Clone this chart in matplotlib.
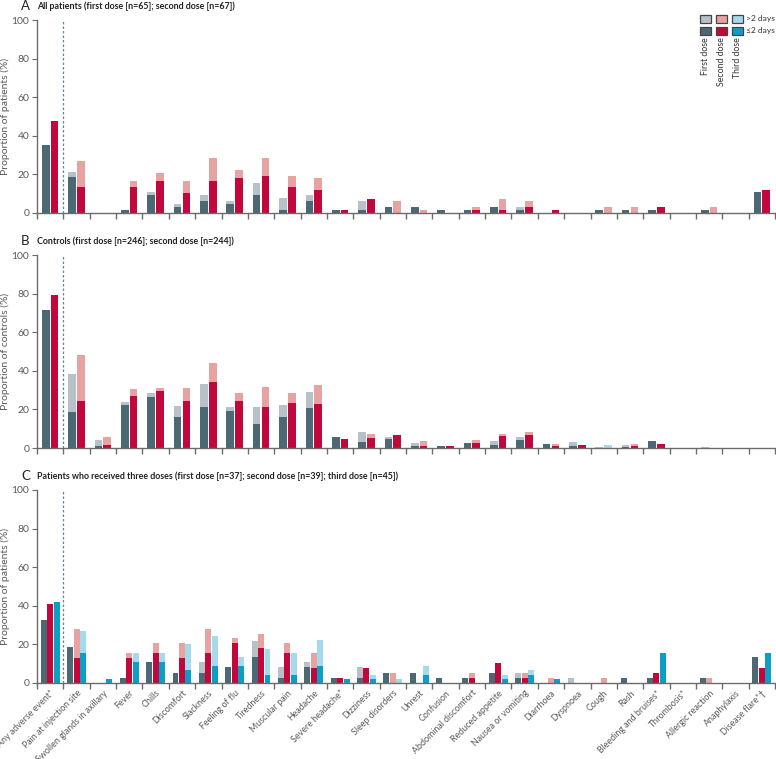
import numpy as np
import matplotlib
matplotlib.use("Agg")
import matplotlib.pyplot as plt
from matplotlib.patches import Rectangle

plt.rcParams['font.family'] = ['Lato', 'DejaVu Sans']

W, H = 776, 759

categories = ["Any adverse event*", "Pain at injection site", "Swollen glands in axillary",
              "Fever", "Chills", "Discomfort", "Slackness", "Feeling of flu", "Tiredness",
              "Muscular pain", "Headache", "Severe headache*", "Dizziness", "Sleep disorders",
              "Unrest", "Confusion", "Abdominal discomfort", "Reduced appetite",
              "Nausea or vomiting", "Diarrhoea", "Dyspnoea", "Cough", "Rash",
              "Bleeding and bruises*", "Thrombosis*", "Allergic reaction", "Anaphylaxis",
              "Disease flare*\u2020"]

## panel A: all patients, % with symptom lasting <=2 days and total
a_first_le2 = [35.4, 18.5, 0, 1.5, 9.2, 3.1, 6.2, 4.6, 9.2, 1.5, 6.2, 1.5, 1.5, 3.1,
               3.1, 1.5, 1.5, 3.1, 1.5, 0, 0, 1.5, 1.5, 1.5, 0, 1.5, 0, 10.8]
a_first_tot = [35.4, 21.5, 0, 1.5, 10.8, 4.6, 9.2, 6.2, 15.4, 7.7, 9.2, 1.5, 6.2, 3.1,
               3.1, 1.5, 1.5, 3.1, 3.1, 0, 0, 1.5, 1.5, 1.5, 0, 1.5, 0, 10.8]
a_second_le2 = [47.8, 13.4, 0, 13.4, 16.4, 10.4, 16.4, 17.9, 19.4, 13.4, 11.9, 1.5, 7.5, 0,
                0, 0, 1.5, 1.5, 3.0, 1.5, 0, 0, 0, 3.0, 0, 0, 0, 11.9]
a_second_tot = [47.8, 26.9, 0, 16.4, 20.9, 16.4, 28.4, 22.4, 28.4, 19.4, 17.9, 1.5, 7.5, 6.0,
                1.5, 0, 3.0, 7.5, 6.0, 1.5, 0, 3.0, 3.0, 3.0, 0, 3.0, 0, 11.9]

## panel B: controls
b_first_le2 = [71.5, 18.7, 1.2, 22.4, 26.4, 15.9, 21.1, 19.1, 12.2, 16.3, 20.7, 5.7, 3.3, 4.9,
               1.2, 0.8, 2.8, 1.6, 4.1, 2.0, 0.8, 0, 0.4, 3.7, 0, 0, 0, 0]
b_first_tot = [71.5, 38.6, 4.1, 24.0, 28.5, 22.0, 33.3, 21.5, 21.1, 22.4, 29.0, 5.7, 8.1, 5.7,
               2.8, 0.8, 2.8, 3.7, 5.7, 2.0, 3.3, 0.4, 1.6, 3.7, 0, 0.4, 0, 0]
b_second_le2 = [79.1, 24.6, 1.6, 27.0, 29.5, 24.6, 34.0, 24.2, 21.3, 23.4, 23.0, 4.9, 5.3, 6.6,
                1.2, 0.8, 2.5, 6.1, 6.6, 1.2, 1.6, 0, 1.2, 2.0, 0, 0, 0, 0]
b_second_tot = [79.1, 48.0, 5.7, 30.7, 31.1, 31.1, 44.3, 28.7, 31.6, 28.3, 32.4, 4.9, 7.0, 6.6,
                3.7, 0.8, 4.1, 7.4, 8.2, 2.0, 1.6, 1.6, 2.0, 2.0, 0, 0, 0, 0]

## panel C: patients with three doses
c_first_le2 = [32.4, 18.9, 0, 2.7, 10.8, 5.4, 5.4, 8.1, 13.5, 2.7, 8.1, 2.7, 2.7, 5.4,
               5.4, 2.7, 2.7, 5.4, 2.7, 0, 0, 0, 2.7, 2.7, 0, 2.7, 0, 13.5]
c_first_tot = [32.4, 18.9, 0, 2.7, 10.8, 5.4, 10.8, 8.1, 21.6, 8.1, 10.8, 2.7, 8.1, 5.4,
               5.4, 2.7, 2.7, 5.4, 5.4, 0, 2.7, 0, 2.7, 2.7, 0, 2.7, 0, 13.5]
c_second_le2 = [41.0, 12.8, 0, 12.8, 15.4, 12.8, 15.4, 20.5, 17.9, 15.4, 7.7, 2.6, 7.7, 0,
                0, 0, 2.6, 10.3, 2.6, 0, 0, 0, 0, 5.1, 0, 0, 0, 7.7]
c_second_tot = [41.0, 28.2, 0, 15.4, 20.5, 20.5, 28.2, 23.1, 25.6, 20.5, 15.4, 2.6, 7.7, 5.1,
                0, 0, 5.1, 10.3, 5.1, 2.6, 0, 2.6, 0, 5.1, 0, 2.6, 0, 7.7]
c_third_le2 = [42.2, 15.6, 2.2, 11.1, 11.1, 6.7, 8.9, 8.9, 4.4, 4.4, 8.9, 2.2, 2.2, 0,
               4.4, 0, 0, 2.2, 4.4, 2.2, 0, 0, 0, 15.6, 0, 0, 0, 15.6]
c_third_tot = [42.2, 26.7, 2.2, 15.6, 15.6, 20.0, 24.4, 13.3, 17.8, 15.6, 22.2, 2.2, 4.4, 2.2,
               8.9, 0, 0, 4.4, 6.7, 2.2, 0, 0, 0, 15.6, 0, 0, 0, 15.6]

dose_names = ["First dose", "Second dose", "Third dose"]
dark_cols = ["#4c6873", "#c1073b", "#0b9ec7"]
light_cols = ["#b8c1c8", "#e6a3a2", "#a5d9ee"]

panels = [
    ("A", "All patients (first dose [n=65]; second dose [n=67])", "Proportion of patients (%)",
     [(a_first_le2, a_first_tot), (a_second_le2, a_second_tot)], 213),
    ("B", "Controls (first dose [n=246]; second dose [n=244])", "Proportion of controls (%)",
     [(b_first_le2, b_first_tot), (b_second_le2, b_second_tot)], 448),
    ("C", "Patients who received three doses (first dose [n=37]; second dose [n=39]; third dose [n=45])",
     "Proportion of patients (%)",
     [(c_first_le2, c_first_tot), (c_second_le2, c_second_tot), (c_third_le2, c_third_tot)], 683),
]

# in the original the >2 days part of cough (controls, second dose) is drawn light blue
odd_colour = {("B", 1, 21): "#a5d9ee"}

fig = plt.figure(figsize=(W / 100, H / 100), dpi=100)
x = np.arange(len(categories))
x_left, x_right = 37, 775
ax_h = 193
grey = "#5a5a5a"

for letter, title, ylab, series, base_px in panels:
    ax = fig.add_axes([x_left / W, 1 - base_px / H, (x_right - x_left) / W, ax_h / H])
    n = len(series)
    width = 0.29 if n == 2 else 0.225
    step = 0.335 if n == 2 else 0.245
    offs = (np.arange(n) - (n - 1) / 2) * step
    for d, (le2, tot) in enumerate(series):
        le2 = np.array(le2)
        tot = np.array(tot)
        ax.bar(x + offs[d], le2, width, color=dark_cols[d], linewidth=0)
        lcols = [odd_colour.get((letter, d, i), light_cols[d]) for i in range(len(x))]
        ax.bar(x + offs[d], tot - le2, width, bottom=le2, color=lcols, linewidth=0)

    ax.set_xlim(-0.5, len(categories) - 0.5)
    ax.set_ylim(0, 100)
    ax.axvline(0.5, ymin=0, ymax=1, color="#5f8796", lw=0.9, ls=(0, (2, 1.6)))
    for s in ["top", "right"]:
        ax.spines[s].set_visible(False)
    for s in ["left", "bottom"]:
        ax.spines[s].set_color("#6b6b6b")
        ax.spines[s].set_linewidth(1.0)
    ax.set_yticks([0, 20, 40, 60, 80, 100])
    ax.tick_params(axis="y", labelsize=7.5, colors="#6b6b6b", labelcolor=grey, length=3.5, pad=2)
    ax.set_xticks(np.arange(len(categories) + 1) - 0.5, minor=True)
    ax.tick_params(axis="x", which="minor", length=4, color="#6b6b6b", width=1)
    ax.set_xticks(x)
    ax.tick_params(axis="x", which="major", length=0, pad=4)
    if letter == "C":
        ax.set_xticklabels(categories, rotation=45, ha="right", rotation_mode="anchor",
                           fontsize=6.4, color=grey)
    else:
        ax.set_xticklabels([])
    ax.set_ylabel(ylab, fontsize=7.5, color=grey)
    ax.yaxis.set_label_coords((10 - x_left) / (x_right - x_left), 0.5)

    top_px = base_px - ax_h
    ty = 1 - (top_px - 14) / H
    fig.text(21 / W, ty, letter, fontsize=9.5, color="#222222", va="center", ha="left")
    fig.text(37 / W, ty, title, fontsize=6.4, fontweight="bold", color="#222222",
             va="center", ha="left")

# legend drawn by hand at the top right of panel A
def fx(px):
    return px / W

def fy(py):
    return 1 - py / H

col_x = [700, 716, 732]
for i in range(3):
    for row_y, cols in [(19, light_cols), (31, dark_cols)]:
        fig.add_artist(Rectangle((fx(col_x[i]), fy(row_y + 3.5)), 10.5 / W, 7 / H,
                                 transform=fig.transFigure, facecolor=cols[i],
                                 edgecolor="#444444", linewidth=0.9))
    fig.text(fx(col_x[i] + 5.5), fy(37), dose_names[i], rotation=90, ha="center", va="top",
             fontsize=6.3, color="#333333")
fig.text(fx(746), fy(19), ">2 days", fontsize=6.1, color="#333333", va="center", ha="left")
fig.text(fx(746), fy(31), "\u22642 days", fontsize=6.1, color="#333333", va="center", ha="left")

fig.savefig("out.png", dpi=100)
